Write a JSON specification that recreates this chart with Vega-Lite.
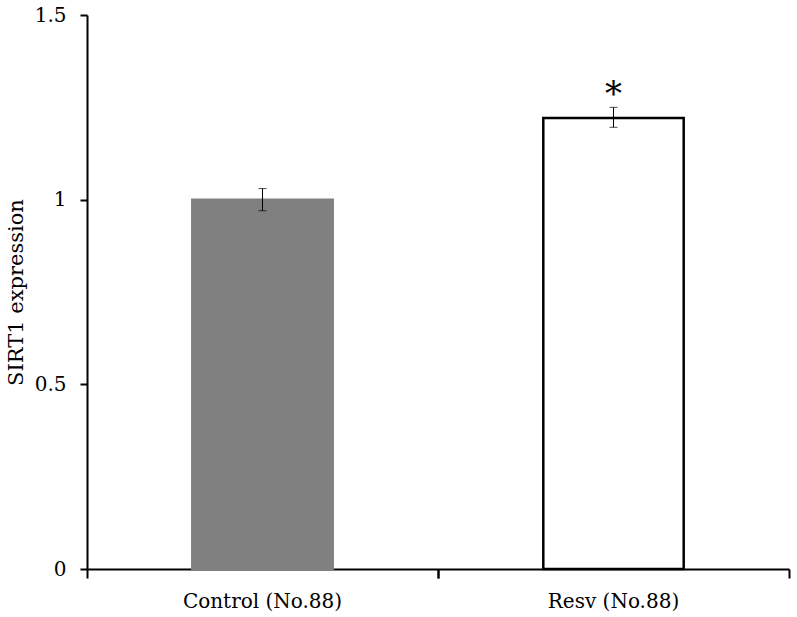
{
  "$schema": "https://vega.github.io/schema/vega-lite/v6.json",
  "autosize": {"type": "none"},
  "padding": {"left": 87, "top": 15, "right": 8, "bottom": 48},
  "width": 702,
  "height": 554,
  "background": "white",
  "config": {
    "view": {"stroke": null},
    "font": "DejaVu Serif",
    "axis": {"labelFont": "DejaVu Serif", "titleFont": "DejaVu Serif", "labelColor": "black", "titleColor": "black", "domainColor": "black", "tickColor": "black", "grid": false}
  },
  "data": {
    "values": [
      {"group": "Control (No.88)", "expression": 1.0, "lo": 0.97, "hi": 1.03, "sig": ""},
      {"group": "Resv (No.88)", "expression": 1.221, "lo": 1.196, "hi": 1.25, "sig": "*"}
    ]
  },
  "resolve": {"axis": {"x": "independent"}},
  "layer": [
    {
      "mark": {"type": "bar", "strokeWidth": 2.5, "width": {"band": 0.4}},
      "encoding": {
        "x": {"field": "group", "type": "nominal", "sort": null,
              "scale": {"paddingInner": 0, "paddingOuter": 0},
              "axis": {"orient": "bottom", "title": null, "ticks": false, "domainWidth": 2, "labelFontSize": 20, "labelPadding": 22, "labelAngle": 0}},
        "y": {"field": "expression", "type": "quantitative",
              "scale": {"domain": [0, 1.5], "nice": false},
              "axis": {"values": [0, 0.5, 1, 1.5], "title": "SIRT1 expression", "titleFontSize": 21, "titleFontWeight": "normal", "titlePadding": 8, "labelFontSize": 20, "labelPadding": 14, "tickSize": 7, "tickWidth": 2, "domainWidth": 2, "labelExpr": "datum.value == 0 ? '0' : datum.value == 1 ? '1' : format(datum.value, '.1f')"}},
        "fill": {"field": "group", "type": "nominal", "scale": {"range": ["#808080", "#ffffff"]}, "legend": null},
        "stroke": {"field": "group", "type": "nominal", "scale": {"range": ["#808080", "#000000"]}, "legend": null}
      }
    },
    {
      "mark": {"type": "rule", "color": "black", "strokeWidth": 1},
      "encoding": {
        "x": {"field": "group", "type": "nominal", "sort": null, "axis": {"orient": "bottom", "bandPosition": 0, "labels": false, "domain": false, "tickSize": 9, "tickWidth": 2, "title": null}},
        "y": {"field": "lo", "type": "quantitative"},
        "y2": {"field": "hi"}
      }
    },
    {
      "mark": {"type": "tick", "color": "black", "thickness": 1, "size": 8, "orient": "horizontal"},
      "encoding": {
        "x": {"field": "group", "type": "nominal", "sort": null, "axis": {"orient": "bottom", "bandPosition": 1, "labels": false, "domain": false, "tickSize": 9, "tickWidth": 2, "title": null}},
        "y": {"field": "lo", "type": "quantitative"}
      }
    },
    {
      "mark": {"type": "tick", "color": "black", "thickness": 1, "size": 8, "orient": "horizontal"},
      "encoding": {
        "x": {"field": "group", "type": "nominal", "sort": null, "axis": null},
        "y": {"field": "hi", "type": "quantitative"}
      }
    },
    {
      "mark": {"type": "text", "fontSize": 34, "baseline": "middle", "dy": 8, "color": "black", "font": "DejaVu Serif"},
      "encoding": {
        "x": {"field": "group", "type": "nominal", "sort": null, "axis": null},
        "y": {"datum": 1.306, "type": "quantitative"},
        "text": {"field": "sig"}
      }
    }
  ]
}
